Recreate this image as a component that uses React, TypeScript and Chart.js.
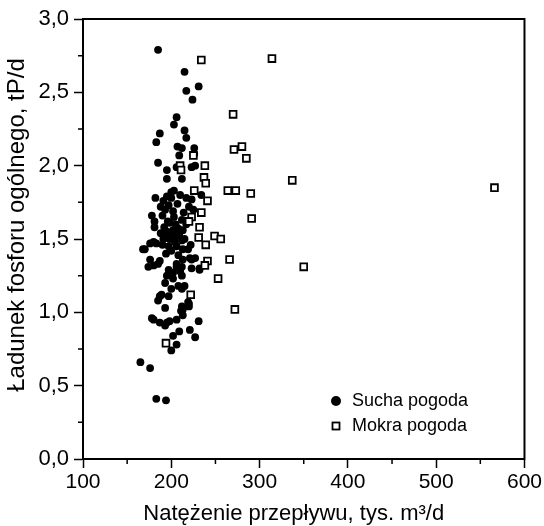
import React, { useEffect, useRef } from "react";
import { Chart, registerables } from "chart.js";

Chart.register(...registerables);

// Sucha pogoda (dry weather) – filled circles
const suchaX = [
  185, 215, 231, 217, 224, 206, 203, 215, 217, 187, 183, 207, 212, 226, 226, 209,
  185, 195, 206, 223, 227, 195, 212, 200, 203, 182, 195, 200, 217, 223, 234, 197,
  193, 202, 225, 178, 212, 181, 198, 181, 208, 217, 195, 200, 213, 191, 198, 206,
  180, 176, 212, 197, 206, 213, 170, 219, 188, 190, 203, 196, 205, 192, 202, 188,
  209, 193, 204, 190, 200, 194, 208, 214, 220, 215, 222, 183, 185, 187, 197, 202,
  206, 212, 223, 227, 232, 193, 200, 208, 212, 215, 187, 185, 197, 219, 212, 213,
  193, 189, 220, 220, 211, 213, 180, 178, 187, 193, 195, 198, 206, 231, 209, 202,
  221, 227, 206, 200, 165, 176, 183, 194, 176, 180, 174, 213, 221, 223, 206, 210,
  212, 195, 202, 168, 232, 207, 191, 210,
];
const suchaY = [
  2.79, 2.64, 2.54, 2.51, 2.45, 2.33, 2.28, 2.24, 2.19, 2.22, 2.16, 2.13, 2.12, 2.12, 2.08, 2.07,
  2.02, 1.97, 1.99, 1.99, 2.0, 1.91, 1.91, 1.82, 1.83, 1.78, 1.79, 1.78, 1.78, 1.77, 1.8, 1.73,
  1.7, 1.69, 1.7, 1.66, 1.63, 1.62, 1.61, 1.58, 1.57, 1.6, 1.55, 1.54, 1.56, 1.5, 1.5, 1.52,
  1.48, 1.47, 1.49, 1.45, 1.45, 1.43, 1.43, 1.43, 1.72, 1.66, 1.65, 1.62, 1.6, 1.58, 1.56, 1.54,
  1.53, 1.52, 1.48, 1.46, 1.42, 1.4, 1.39, 1.68, 1.72, 1.5, 1.46, 1.47, 1.33, 1.35, 1.29, 1.27,
  1.33, 1.31, 1.36, 1.37, 1.29, 1.2, 1.16, 1.18, 1.16, 1.18, 1.11, 1.08, 1.11, 1.07, 1.04, 1.02,
  1.03, 1.12, 1.06, 1.04, 1.01, 0.98, 0.95, 0.96, 0.93, 0.91, 0.93, 0.94, 0.95, 0.94, 0.87, 0.84,
  0.88, 0.83, 0.78, 0.74, 0.66, 0.62, 0.41, 0.4, 1.36, 1.32, 1.31, 1.36, 1.37, 1.3, 1.31, 1.28,
  1.25, 1.25, 1.23, 1.43, 1.3, 1.74, 1.76, 1.8,
];

// Mokra pogoda (wet weather) – open squares
const mokraX = [
  314, 234, 270, 271, 280, 285, 225, 210, 238, 211, 237, 239, 337, 264, 273, 290,
  566, 226, 241, 234, 291, 223, 220, 232, 231, 249, 256, 239, 266, 350, 241, 238,
  253, 222, 272, 194,
];
const mokraY = [
  2.73, 2.72, 2.35, 2.11, 2.13, 2.05, 2.07, 2.0, 2.0, 1.97, 1.92, 1.88, 1.9, 1.83, 1.83, 1.81,
  1.85, 1.83, 1.76, 1.68, 1.64, 1.65, 1.62, 1.58, 1.51, 1.52, 1.5, 1.46, 1.36, 1.31, 1.35, 1.32,
  1.23, 1.12, 1.02, 0.79,
];

const xMinorTicks = [150, 250, 350, 450, 550];
const yMinorTicks = [0.25, 0.75, 1.25, 1.75, 2.25, 2.75];

const xTitle = "Natężenie przepływu, tys. m³/d";
const yTitle = "Ładunek fosforu ogólnego, tP/d";
const seriesNames = ["Sucha pogoda", "Mokra pogoda"];

const FONT = '"Liberation Sans", Arial, sans-serif';

const decor = {
  id: "decor",
  afterDraw(chart: any) {
    const { ctx, chartArea: a, scales } = chart;
    const xs = scales.x;
    const ys = scales.y;
    ctx.save();
    ctx.strokeStyle = "#000";
    ctx.fillStyle = "#000";
    // frame
    ctx.lineWidth = 2;
    ctx.strokeRect(a.left, a.top, a.right - a.left, a.bottom - a.top);
    // minor ticks
    ctx.lineWidth = 1.5;
    ctx.beginPath();
    for (const v of xMinorTicks) {
      const px = xs.getPixelForValue(v);
      ctx.moveTo(px, a.bottom);
      ctx.lineTo(px, a.bottom + 5);
    }
    for (const v of yMinorTicks) {
      const py = ys.getPixelForValue(v);
      ctx.moveTo(a.left - 5, py);
      ctx.lineTo(a.left, py);
    }
    ctx.stroke();
    // axis titles
    ctx.font = `22px ${FONT}`;
    ctx.textAlign = "center";
    ctx.textBaseline = "alphabetic";
    ctx.fillText(xTitle, (a.left + a.right) / 2 - 10, 520);
    ctx.save();
    ctx.translate(24, (a.top + a.bottom) / 2 - 14);
    ctx.rotate(-Math.PI / 2);
    ctx.font = `24px ${FONT}`;
    ctx.fillText(yTitle, 0, 0);
    ctx.restore();
    // legend
    const lx = a.left + 253;
    const ly1 = a.bottom - 58;
    const ly2 = a.bottom - 33;
    ctx.beginPath();
    ctx.arc(lx, ly1, 5, 0, Math.PI * 2);
    ctx.fill();
    ctx.lineWidth = 1.8;
    ctx.fillStyle = "#fff";
    ctx.fillRect(lx - 3.5, ly2 - 3.5, 7, 7);
    ctx.strokeRect(lx - 3.5, ly2 - 3.5, 7, 7);
    ctx.fillStyle = "#000";
    ctx.font = `18px ${FONT}`;
    ctx.textAlign = "left";
    ctx.textBaseline = "middle";
    ctx.fillText(seriesNames[0], lx + 16, ly1);
    ctx.fillText(seriesNames[1], lx + 16, ly2);
    ctx.restore();
  },
};

export default function App() {
  const ref = useRef<HTMLCanvasElement>(null);
  useEffect(() => {
    if (!ref.current) return;
    const sucha = suchaX.map((x, i) => ({ x, y: suchaY[i] }));
    const mokra = mokraX.map((x, i) => ({ x, y: mokraY[i] }));
    const chart = new Chart(ref.current, {
      type: "scatter",
      data: {
        datasets: [
          {
            label: seriesNames[1],
            data: mokra,
            pointStyle: "rect",
            pointRadius: 4.8,
            pointBackgroundColor: "#fff",
            pointBorderColor: "#000",
            pointBorderWidth: 1.8,
          },
          {
            label: seriesNames[0],
            data: sucha,
            pointStyle: "circle",
            pointRadius: 3.9,
            pointBackgroundColor: "#000",
            pointBorderColor: "#000",
            pointBorderWidth: 0,
          },
        ],
      },
      options: {
        responsive: false,
        animation: false,
        events: [],
        layout: { padding: { top: 19, right: 19, left: 0, bottom: 0 } },
        plugins: { legend: { display: false }, tooltip: { enabled: false } },
        scales: {
          x: {
            type: "linear",
            min: 100,
            max: 600,
            ticks: {
              stepSize: 100,
              color: "#000",
              padding: 2,
              font: { family: FONT, size: 21 },
            },
            grid: {
              drawOnChartArea: false,
              drawTicks: true,
              tickLength: 9,
              tickWidth: 1.5,
              tickColor: "#000",
            },
            border: { color: "#000", width: 2 },
            afterFit: (s: any) => {
              s.height = 67;
            },
          },
          y: {
            type: "linear",
            min: 0,
            max: 3,
            ticks: {
              stepSize: 0.5,
              color: "#000",
              padding: 5,
              font: { family: FONT, size: 22 },
              callback: (v: any) => Number(v).toFixed(1).replace(".", ","),
            },
            grid: {
              drawOnChartArea: false,
              drawTicks: true,
              tickLength: 9,
              tickWidth: 1.5,
              tickColor: "#000",
            },
            border: { color: "#000", width: 2 },
            afterFit: (s: any) => {
              s.width = 83;
            },
          },
        },
      },
      plugins: [decor],
    });
    return () => chart.destroy();
  }, []);
  return (
    <div style={{ position: "fixed", left: 0, top: 0, width: 544, height: 526, background: "#fff" }}>
      <canvas ref={ref} width={544} height={526} />
    </div>
  );
}
